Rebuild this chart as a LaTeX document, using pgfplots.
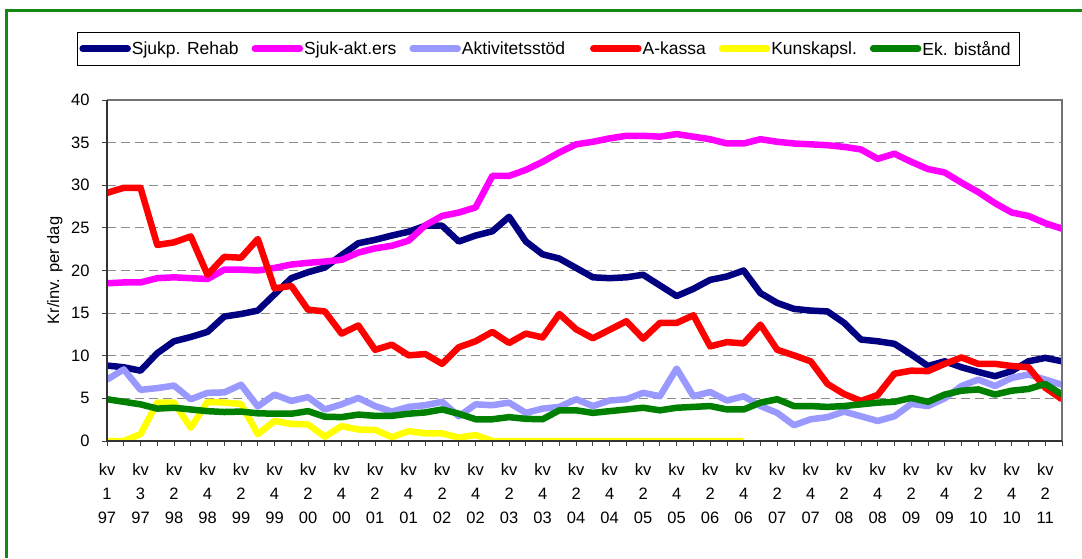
\documentclass[border=0pt]{standalone}
\usepackage{pgfplots}
\usepackage{pgfplotstable}
\pgfplotsset{compat=1.18}
\usepackage{fontspec}
\setmainfont{Liberation Sans}
\definecolor{cnavy}{RGB}{0,0,128}
\definecolor{cpink}{RGB}{255,0,255}
\definecolor{clblue}{RGB}{153,153,255}
\definecolor{cred}{RGB}{255,0,0}
\definecolor{cyellow}{RGB}{255,255,0}
\definecolor{cgreen}{RGB}{0,128,0}
\definecolor{cborder}{RGB}{20,135,20}

\pgfplotstableread{
x rehab sjuk akt akassa ek
0 8.85 18.5 7.2 29.1 4.9
1 8.65 18.6 8.4 29.7 4.6
2 8.25 18.6 6.0 29.7 4.3
3 10.3 19.1 6.2 23.0 3.8
4 11.7 19.2 6.5 23.3 3.9
5 12.2 19.1 4.9 24.0 3.7
6 12.8 19.0 5.65 19.5 3.5
7 14.6 20.1 5.7 21.6 3.4
8 14.9 20.1 6.6 21.5 3.45
9 15.3 20.0 4.05 23.7 3.25
10 17.2 20.3 5.45 17.9 3.2
11 19.1 20.7 4.7 18.2 3.2
12 19.8 20.9 5.15 15.4 3.5
13 20.35 21.05 3.7 15.2 2.85
14 21.8 21.25 4.3 12.6 2.8
15 23.2 22.1 5.05 13.55 3.1
16 23.6 22.6 4.1 10.7 2.95
17 24.1 22.9 3.45 11.3 2.95
18 24.55 23.5 4.0 10.05 3.2
19 25.25 25.3 4.2 10.2 3.35
20 25.25 26.4 4.6 9.05 3.7
21 23.4 26.8 2.9 11.0 3.2
22 24.1 27.4 4.3 11.7 2.55
23 24.6 31.1 4.2 12.8 2.55
24 26.3 31.1 4.5 11.5 2.8
25 23.4 31.8 3.3 12.6 2.6
26 21.9 32.75 3.8 12.15 2.55
27 21.4 33.85 4.0 14.9 3.6
28 20.3 34.8 4.9 13.1 3.6
29 19.2 35.1 4.1 12.05 3.3
30 19.1 35.5 4.75 13.05 3.5
31 19.2 35.8 4.9 14.05 3.7
32 19.5 35.8 5.65 12.0 3.9
33 18.25 35.7 5.25 13.85 3.6
34 17.0 36.0 8.5 13.85 3.9
35 17.85 35.7 5.25 14.75 4.0
36 18.9 35.4 5.75 11.1 4.1
37 19.3 34.9 4.75 11.6 3.7
38 20.0 34.9 5.25 11.45 3.7
39 17.35 35.4 4.1 13.65 4.5
40 16.2 35.1 3.3 10.7 4.9
41 15.5 34.9 1.85 10.05 4.1
42 15.3 34.8 2.55 9.35 4.1
43 15.2 34.7 2.8 6.7 4.0
44 13.85 34.5 3.45 5.5 4.1
45 11.9 34.2 2.9 4.7 4.3
46 11.7 33.1 2.35 5.4 4.5
47 11.4 33.7 2.9 7.9 4.6
48 10.15 32.75 4.35 8.25 5.05
49 8.8 31.9 4.1 8.2 4.6
50 9.35 31.5 5.0 9.05 5.45
51 8.65 30.3 6.45 9.8 5.9
52 8.1 29.2 7.2 9.05 6.05
53 7.6 27.9 6.45 9.05 5.45
54 8.2 26.8 7.4 8.8 5.9
55 9.35 26.4 7.8 8.65 6.1
56 9.75 25.55 7.2 6.25 6.7
57 9.35 24.9 6.6 4.9 5.45
}\maintable

\pgfplotstableread{
x kunsk
0 0
1 0
2 0.8
3 4.5
4 4.5
5 1.55
6 4.6
7 4.5
8 4.35
9 0.8
10 2.35
11 2.0
12 1.95
13 0.5
14 1.75
15 1.35
16 1.3
17 0.45
18 1.15
19 0.9
20 0.9
21 0.4
22 0.7
23 0
24 0
25 0
26 0
27 0
28 0
29 0
30 0
31 0
32 0
33 0
34 0
35 0
36 0
37 0
38 0
}\kunsktable

\begin{document}
\begin{tikzpicture}[x=1pt,y=1pt]
\useasboundingbox (0,0) rectangle (1082,558);
\fill[white] (0,0) rectangle (1082,558);
\draw[cborder, line width=2.5pt] (6.5,0) -- (6.5,547.5) -- (1082,547.5);
\begin{axis}[
  at={(107pt,117pt)}, anchor=south west,
  scale only axis, width=955pt, height=341pt,
  xmin=0, xmax=57, ymin=0, ymax=40,
  clip mode=individual,
  axis line style={draw=none},
  tick pos=left, tick align=outside,
  major tick length=5pt, minor tick length=5pt,
  every tick/.style={black!75, line width=0.8pt},
  xtick={0,2,...,56},
  minor xtick={1,3,...,57},
  xticklabels={{kv\\1\\97},{kv\\3\\97},{kv\\2\\98},{kv\\4\\98},{kv\\2\\99},{kv\\4\\99},{kv\\2\\00},{kv\\4\\00},{kv\\2\\01},{kv\\4\\01},{kv\\2\\02},{kv\\4\\02},{kv\\2\\03},{kv\\4\\03},{kv\\2\\04},{kv\\4\\04},{kv\\2\\05},{kv\\4\\05},{kv\\2\\06},{kv\\4\\06},{kv\\2\\07},{kv\\4\\07},{kv\\2\\08},{kv\\4\\08},{kv\\2\\09},{kv\\4\\09},{kv\\2\\10},{kv\\4\\10},{kv\\2\\11}},
  xticklabel style={align=center, font=\fontsize{16.5}{24}\selectfont, yshift=-14.5pt},
  ytick={0,5,...,40},
  yticklabel style={font=\fontsize{16.5}{20}\selectfont, xshift=-9pt},
  /pgf/number format/assume math mode=true,
  ymajorgrids,
  major grid style={black!45, line width=0.8pt, dash pattern=on 9pt off 5pt},
  ylabel={Kr/inv. per dag},
  ylabel style={font=\fontsize{16.5}{20}\selectfont, at={(axis description cs:-0.0545,0.5)}, anchor=center, rotate=0},
  every axis plot/.append style={line width=6.5pt, line join=round},
  legend columns=6,
  legend cell align=left,
  legend image code/.code={\draw[#1, line cap=round] (3pt,0pt) -- (48pt,0pt);},
  legend style={at={(-0.0314,1.1994)}, anchor=north west, draw=black, line width=0.8pt,
    font=\fontsize{17.5}{20}\selectfont, inner xsep=2pt, inner ysep=7.5pt,
    nodes={inner sep=1pt},
    /tikz/every even column/.append style={column sep=12pt}},
]
\addplot[cnavy] table[x=x, y=rehab] {\maintable};
\addlegendentry{Sjukp. Rehab}
\addplot[cpink] table[x=x, y=sjuk] {\maintable};
\addlegendentry{Sjuk-akt.ers}
\addplot[clblue] table[x=x, y=akt] {\maintable};
\addlegendentry{Aktivitetsstöd\kern12pt}
\addplot[cred] table[x=x, y=akassa] {\maintable};
\addlegendentry{A-kassa}
\addplot[cyellow] table[x=x, y=kunsk] {\kunsktable};
\addlegendentry{Kunskapsl.}
\addplot[cgreen] table[x=x, y=ek] {\maintable};
\addlegendentry{Ek. bistånd\kern6pt}
\draw[black!55, line width=2pt] (rel axis cs:0,1) -- (rel axis cs:1,1) -- (rel axis cs:1,0);
\draw[black!80, line width=1.2pt] (rel axis cs:0,1) -- (rel axis cs:0,0) -- (rel axis cs:1,0);
\end{axis}
\end{tikzpicture}
\end{document}
